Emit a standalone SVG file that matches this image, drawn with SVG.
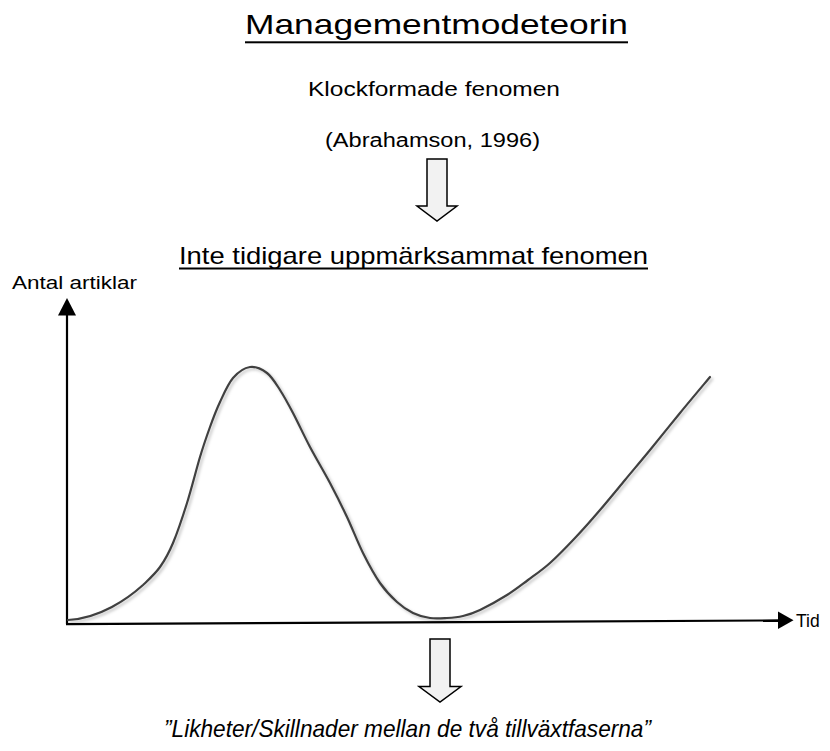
<svg xmlns="http://www.w3.org/2000/svg" width="830" height="751" viewBox="0 0 830 751">
<style>
  .t { font-family: "Liberation Sans", Arial, sans-serif; fill: #000; }
  .ti { font-family: "Liberation Sans", Arial, sans-serif; font-style: italic; fill: #000; }
  .blk { fill: none; stroke: #000; stroke-width: 2.2; }
  .bigarrow { fill: #f2f2f2; stroke: #000; stroke-width: 1.5; stroke-linejoin: miter; }
  .curve { fill: none; stroke: #404040; stroke-width: 2.2; stroke-linecap: round; }
</style>
<defs>
  <filter id="sh" x="-10%" y="-10%" width="130%" height="130%">
    <feDropShadow dx="2" dy="2" stdDeviation="1.5" flood-color="#000" flood-opacity="0.25"/>
  </filter>
</defs>
<rect width="830" height="751" fill="#fff"/>

<g id="title">
  <text class="t" x="245" y="34" font-size="28.5" textLength="383" lengthAdjust="spacingAndGlyphs">Managementmodeteorin</text>
  <rect x="245" y="41.3" width="383" height="2" fill="#000"/>
</g>

<g id="klock">
  <text class="t" x="308" y="96" font-size="20" textLength="252" lengthAdjust="spacingAndGlyphs">Klockformade fenomen</text>
</g>

<g id="ref">
  <text class="t" x="325" y="147" font-size="20" textLength="215" lengthAdjust="spacingAndGlyphs">(Abrahamson, 1996)</text>
</g>

<g id="inte">
  <text class="t" x="179" y="263.5" font-size="24" textLength="469" lengthAdjust="spacingAndGlyphs">Inte tidigare uppmärksammat fenomen</text>
  <rect x="179" y="267.5" width="469" height="2" fill="#000"/>
</g>

<g id="conclusion">
  <text class="ti" x="164" y="737" font-size="24" textLength="487" lengthAdjust="spacingAndGlyphs">”Likheter/Skillnader mellan de två tillväxtfaserna”</text>
</g>

<g id="ylabel">
  <text class="t" x="12" y="289" font-size="17.5" textLength="125" lengthAdjust="spacingAndGlyphs">Antal artiklar</text>
</g>

<g id="xlabel">
  <text class="t" x="796" y="627" font-size="17.5">Tid</text>
</g>

<g id="connectors">
  <path class="bigarrow" d="M427,159 L447,159 L447,206 L457,206 L437,221 L417,206 L427,206 Z"/>
  <path class="bigarrow" d="M430,639 L450,639 L450,686.5 L461,686.5 L440,702 L419,686.5 L430,686.5 Z"/>
  <line class="blk" x1="67" y1="313" x2="67" y2="624"/>
  <polygon points="67,298 58,315.5 76,315.5" fill="#000"/>
  <line class="blk" x1="66" y1="624.2" x2="780" y2="620.4"/>
  <polygon points="793.5,620.3 778,611.5 778,629" fill="#000"/>
</g>

<g id="curve">
  <path class="curve" filter="url(#sh)" d="M68,620 C100,618.5 128,598.5 143,585 C148.5,579.8 155,574 160,567 C165,560 168.5,553.7 173,543 C177.5,532.3 182.5,517.3 187,503 C191.5,488.7 196.2,469.7 200,457 C203.8,444.3 206.7,436.2 210,427 C213.3,417.8 216.2,410.2 220,402 C223.8,393.8 228,383.8 233,378 C238,372.2 244.3,367.8 250,367 C255.7,366.2 262,369.2 267,373 C272,376.8 275.7,383.3 280,390 C284.3,396.7 288,403.5 293,413 C298,422.5 303.8,435.3 310,447 C316.2,458.7 323.8,471.3 330,483 C336.2,494.7 341.5,505.3 347,517 C352.5,528.7 357.5,542 363,553 C368.5,564 374.3,574.8 380,583 C385.7,591.2 391.5,597 397,602 C402.5,607 407.5,610.3 413,613 C418.5,615.7 424.3,617.2 430,618 C435.7,618.8 441.5,618.3 447,618 C452.5,617.7 457.5,617.3 463,616 C468.5,614.7 472.7,613.5 480,610 C487.3,606.5 499,600 507,595 C515,590 520.8,585.3 528,580 C535.2,574.7 542.2,570 550,563 C557.8,556 566.7,546.8 575,538 C583.3,529.2 591.7,519.7 600,510 C608.3,500.3 616.7,490 625,480 C633.3,470 640.8,461.2 650,450 C659.2,438.8 670,425.2 680,413 C690,400.8 705,383 710,377"/>
</g>
</svg>
